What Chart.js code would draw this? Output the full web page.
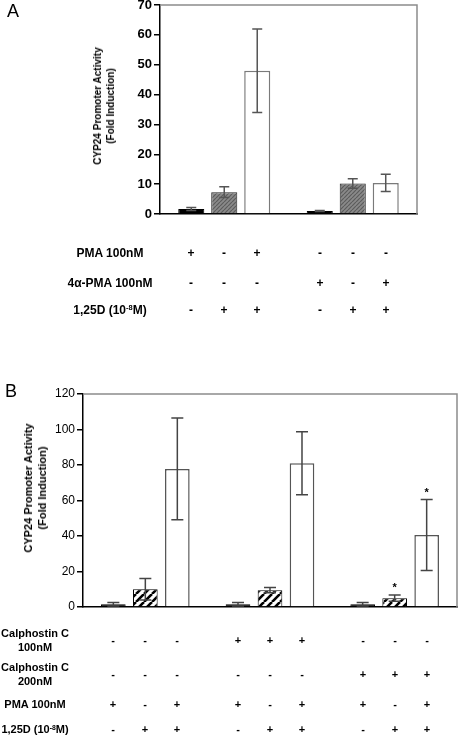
<!DOCTYPE html>
<html>
<head>
<meta charset="utf-8">
<script src="https://cdn.jsdelivr.net/npm/chart.js@4.4.1/dist/chart.umd.min.js"></script>
<style>
  body { margin: 0; background: #fff; }
  #wrap { position: relative; width: 458px; height: 736px; overflow: hidden; font-family: "Liberation Sans", Arial, sans-serif; }
  canvas { position: absolute; left: 0; }
  .txt { position: absolute; font-weight: bold; white-space: nowrap; color: #000; text-align: center; transform: translate(-50%, -50%); will-change: transform; }
  .ytitle { position: absolute; font-weight: bold; white-space: nowrap; text-align: center; transform: translate(-50%, -50%) rotate(-90deg); will-change: transform; }
  .panel { position: absolute; font-size: 18px; line-height: 18px; }
  sup { font-size: 0.62em; vertical-align: 0.45em; line-height: 0; }
</style>
</head>
<body>
<div id="wrap">
  <canvas id="chartA" width="458" height="235" style="top:-10px"></canvas>
  <canvas id="chartB" width="458" height="250" style="top:370px"></canvas>
</div>
<script>
// ---- panel A data ----
const groupsA = ['PMA', '4a-PMA'];
const blackA = [1.7, 1.0];
const blackErrA = [0.5, 0.2];
const hatchA = [7.3, 10.2];
const hatchErrA = [1.8, 1.6];
const whiteA = [48.0, 10.4];
const whiteErrA = [14.0, 2.9];
const ticksA = [0, 70, 10]; // min, max, step

const rowLabelsA = ['PMA 100nM', '4&alpha;-PMA 100nM', '1,25D (10<sup>-8</sup>M)'];
const rowSignsA = [
    ['+', '-', '+', '-', '-', '-'],
    ['-', '-', '-', '+', '-', '+'],
    ['-', '+', '+', '-', '+', '+']
];

// ---- panel B data ----
const groupsB = ['Control', 'Calphostin C 100nM', 'Calphostin C 200nM'];
const blackB = [1.5, 1.5, 1.5];
const blackErrB = [1.0, 1.0, 1.0];
const hatchB = [10.0, 9.5, 5.0];
const hatchErrB = [6.0, 1.5, 1.8];
const whiteB = [77.8, 81.0, 40.5];
const whiteErrB = [28.7, 17.8, 20.0];
const starB = [false, false, true]; // significance marks on hatched and white bars of the last group
const ticksB = [0, 120, 20];

const rowLabelsB = ['Calphostin C<br>100nM', 'Calphostin C<br>200nM', 'PMA 100nM', '1,25D (10<sup>-8</sup>M)'];
const rowSignsB = [
    ['-', '-', '-', '+', '+', '+', '-', '-', '-'],
    ['-', '-', '-', '-', '-', '-', '+', '+', '+'],
    ['+', '-', '+', '+', '-', '+', '+', '-', '+'],
    ['-', '+', '+', '-', '+', '+', '-', '+', '+']
];

// diagonal stripe pattern ("/" direction)
function stripes(size, bg, fg, lw) {
    const c = document.createElement('canvas');
    c.width = size; c.height = size;
    const g = c.getContext('2d');
    g.fillStyle = bg;
    g.fillRect(0, 0, size, size);
    g.strokeStyle = fg;
    g.lineWidth = lw;
    g.beginPath();
    for (const k of [-size, 0, size]) {
        g.moveTo(k, size);
        g.lineTo(k + size, 0);
    }
    g.stroke();
    return g.createPattern(c, 'repeat');
}

// error bars, significance stars and the grey plot frame
const extras = {
    id: 'extras',
    afterDatasetsDraw(chart, args, opts) {
        const ctx = chart.ctx;
        const y = chart.scales.y;
        ctx.save();
        chart.data.datasets.forEach((ds, d) => {
            const meta = chart.getDatasetMeta(d);
            meta.data.forEach((bar, i) => {
                const v = ds.data[i], e = ds.err[i];
                const top = y.getPixelForValue(v + e);
                const bot = y.getPixelForValue(Math.max(v - e, 0));
                ctx.strokeStyle = opts.errColor;
                ctx.lineWidth = 1.5;
                ctx.beginPath();
                ctx.moveTo(bar.x, top); ctx.lineTo(bar.x, bot);
                ctx.moveTo(bar.x - opts.cap, top); ctx.lineTo(bar.x + opts.cap, top);
                ctx.moveTo(bar.x - opts.cap, bot); ctx.lineTo(bar.x + opts.cap, bot);
                ctx.stroke();
                if (ds.stars && ds.stars[i]) {
                    ctx.fillStyle = '#000';
                    ctx.font = 'bold 11px "Liberation Sans", Arial, sans-serif';
                    ctx.textAlign = 'center';
                    ctx.fillText('*', bar.x, top - 4);
                }
            });
        });
        const a = chart.chartArea;
        ctx.strokeStyle = '#8c8c8c';
        ctx.lineWidth = 1.5;
        ctx.beginPath();
        ctx.moveTo(a.left, a.top); ctx.lineTo(a.right, a.top); ctx.lineTo(a.right, a.bottom);
        ctx.stroke();
        ctx.restore();
    }
};

function makeChart(id, labels, sets, tk, o) {
    return new Chart(document.getElementById(id), {
        type: 'bar',
        data: { labels: labels, datasets: sets },
        plugins: [extras],
        options: {
            responsive: false,
            animation: false,
            events: [],
            layout: { padding: o.padding },
            datasets: { bar: { categoryPercentage: 0.77, barPercentage: o.barPct } },
            plugins: {
                legend: { display: false },
                tooltip: { enabled: false },
                extras: { errColor: o.errColor, cap: o.cap }
            },
            scales: {
                x: {
                    grid: { display: false },
                    ticks: { display: false },
                    border: { color: '#000', width: 1.5 },
                    afterFit: s => { s.height = 0; }
                },
                y: {
                    min: tk[0], max: tk[1],
                    ticks: { stepSize: tk[2], color: '#000', padding: 2, font: o.tickFont },
                    grid: { drawOnChartArea: false, tickLength: 6, color: '#000', lineWidth: 1.5 },
                    border: { color: '#000', width: 1.5 },
                    afterFit: s => { s.width = 40; s.paddingTop = 0; s.paddingBottom = 0; }
                }
            }
        }
    });
}

const chartA = makeChart('chartA', groupsA, [
    { data: blackA, err: blackErrA, backgroundColor: '#000', borderColor: '#000', borderWidth: 1 },
    { data: hatchA, err: hatchErrA, backgroundColor: stripes(4, '#8a8a8a', '#5c5c5c', 1.2), borderColor: '#222', borderWidth: 1 },
    { data: whiteA, err: whiteErrA, backgroundColor: '#fff', borderColor: '#7a7a7a', borderWidth: 1.5 }
], ticksA, {
    padding: { left: 120, right: 41, top: 15, bottom: 11 },
    barPct: 0.79,
    errColor: '#555',
    cap: 5,
    tickFont: { family: '"Liberation Sans", Arial, sans-serif', size: 13, weight: 'bold' }
});

const chartB = makeChart('chartB', groupsB, [
    { data: blackB, err: blackErrB, backgroundColor: '#000', borderColor: '#000', borderWidth: 1 },
    { data: hatchB, err: hatchErrB, stars: starB, backgroundColor: stripes(8, '#fff', '#000', 2.6), borderColor: '#000', borderWidth: 1 },
    { data: whiteB, err: whiteErrB, stars: starB, backgroundColor: '#fff', borderColor: '#555', borderWidth: 1.5 }
], ticksB, {
    padding: { left: 43, right: 1, top: 24, bottom: 13 },
    barPct: 0.77,
    errColor: '#444',
    cap: 6,
    tickFont: { family: '"Liberation Sans", Arial, sans-serif', size: 12 }
});

// ---- text around the charts ----
const wrap = document.getElementById('wrap');
function addText(html, x, y, size, cls) {
    const el = document.createElement('div');
    el.className = cls || 'txt';
    el.innerHTML = html;
    el.style.left = Math.round(x) + 'px';
    el.style.top = Math.round(y) + 'px';
    if (size) { el.style.fontSize = size + 'px'; el.style.lineHeight = (size + 3) + 'px'; }
    wrap.appendChild(el);
    return el;
}

function barCenters(chart) {
    const xs = [];
    chart.data.labels.forEach((l, i) => {
        chart.data.datasets.forEach((ds, d) => xs.push(chart.getDatasetMeta(d).data[i].x));
    });
    return xs;
}

// panel letters
addText('A', 7, 2, null, 'panel');
addText('B', 5, 382, null, 'panel');

// axis titles
addText('CYP24 Promoter Activity<br>(Fold Induction)', 104, 106, 10, 'ytitle');
addText('CYP24 Promoter Activity<br>(Fold Induction)', 35, 488, 11, 'ytitle');

// condition table under panel A
const xsA = barCenters(chartA);
const rowYA = [253, 283, 310];
rowLabelsA.forEach((lab, r) => {
    addText(lab, 110, rowYA[r], 12);
    rowSignsA[r].forEach((s, i) => addText(s, xsA[i], rowYA[r], 12));
});

// condition table under panel B
const xsB = barCenters(chartB);
const rowYB = [640, 674, 704, 729];
rowLabelsB.forEach((lab, r) => {
    addText(lab, 35, rowYB[r], 11);
    rowSignsB[r].forEach((s, i) => addText(s, xsB[i], rowYB[r], 11));
});
</script>
</body>
</html>
